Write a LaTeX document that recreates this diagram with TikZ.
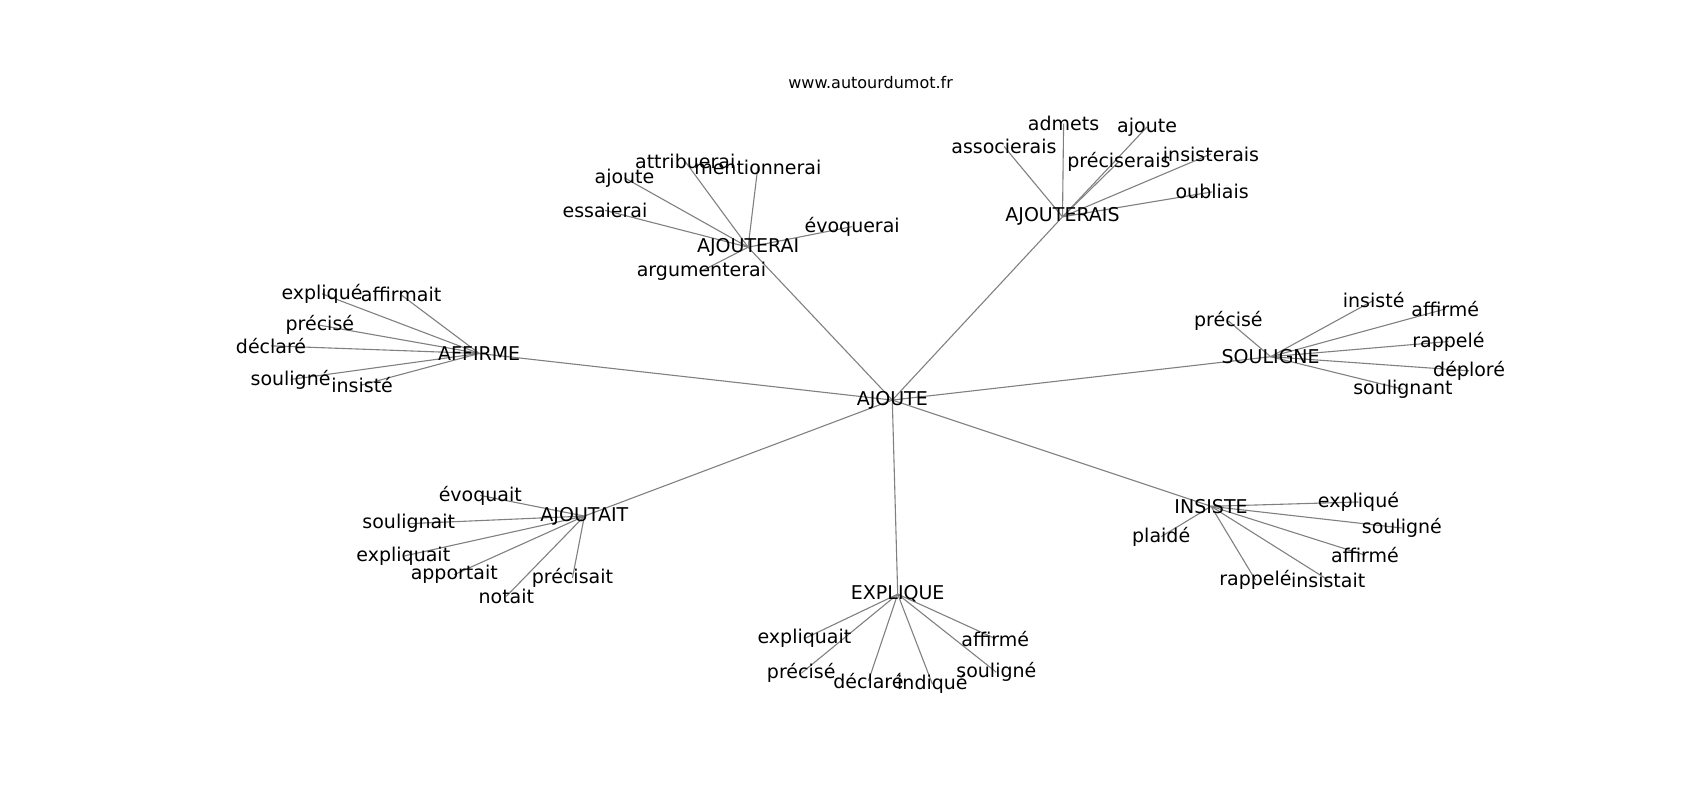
\documentclass[tikz,border=0pt]{standalone}
\usepackage{fontspec}
\setmainfont{DejaVu Sans}
\usepackage{tikz}
\usetikzlibrary{backgrounds}

\tikzset{
  word/.style={inner sep=0pt, font=\fontsize{19}{19}\selectfont},
  link/.style={draw=black!50, line width=1.1pt}
}

\begin{document}
\begin{tikzpicture}[x=1.0842pt, y=-1.0842pt]
\useasboundingbox (0,0) rectangle (1568,738);

\node[inner sep=0pt, font=\fontsize{16}{16}\selectfont] (titre) at (803, 76) {www.autourdumot.fr};

% hubs
\node[word] (ajoute) at (823, 369) {AJOUTE};
\node[word] (ajouterai) at (690, 228) {AJOUTERAI};
\node[word] (ajouterais) at (980, 200) {AJOUTERAIS};
\node[word] (affirme) at (442, 326) {AFFIRME};
\node[word] (souligne) at (1172, 329) {SOULIGNE};
\node[word] (ajoutait) at (539, 476) {AJOUTAIT};
\node[word] (explique) at (828, 548) {EXPLIQUE};
\node[word] (insiste) at (1117, 467) {INSISTE};

% AJOUTERAI
\node[word] (ai-attribuerai) at (632, 149) {attribuerai};
\node[word] (ai-mentionnerai) at (699, 154) {mentionnerai};
\node[word] (ai-ajoute) at (576, 164) {ajoute};
\node[word] (ai-essaierai) at (558, 194) {essaierai};
\node[word] (ai-evoquerai) at (786, 209) {évoquerai};
\node[word] (ai-argumenterai) at (647, 250) {argumenterai};

% AJOUTERAIS
\node[word] (ais-admets) at (981, 114) {admets};
\node[word] (ais-ajoute) at (1058, 117) {ajoute};
\node[word] (ais-associerais) at (926, 135) {associerais};
\node[word] (ais-preciserais) at (1032, 149) {préciserais};
\node[word] (ais-insisterais) at (1117, 142) {insisterais};
\node[word] (ais-oubliais) at (1118, 177) {oubliais};

% AFFIRME
\node[word] (af-explique) at (297, 271) {expliqué};
\node[word] (af-affirmait) at (370, 272) {affirmait};
\node[word] (af-precise) at (295, 300) {précisé};
\node[word] (af-declare) at (250, 319) {déclaré};
\node[word] (af-souligne) at (268, 350) {souligné};
\node[word] (af-insiste) at (334, 355) {insisté};

% SOULIGNE
\node[word] (so-insiste) at (1267, 277) {insisté};
\node[word] (so-precise) at (1133, 296) {précisé};
\node[word] (so-affirme) at (1333, 285) {affirmé};
\node[word] (so-rappele) at (1336, 315) {rappelé};
\node[word] (so-deplore) at (1355, 342) {déploré};
\node[word] (so-soulignant) at (1294, 359) {soulignant};

% AJOUTAIT
\node[word] (at-evoquait) at (443, 457) {évoquait};
\node[word] (at-soulignait) at (377, 483) {soulignait};
\node[word] (at-expliquait) at (372, 513) {expliquait};
\node[word] (at-apportait) at (419, 530) {apportait};
\node[word] (at-precisait) at (528, 533) {précisait};
\node[word] (at-notait) at (467, 550) {notait};

% EXPLIQUE
\node[word] (ex-expliquait) at (742, 589) {expliquait};
\node[word] (ex-affirme) at (918, 589) {affirmé};
\node[word] (ex-precise) at (739, 621) {précisé};
\node[word] (ex-souligne) at (919, 620) {souligné};
\node[word] (ex-declare) at (801, 628) {déclaré};
\node[word] (ex-indique) at (860, 631) {indiqué};

% INSISTE
\node[word] (in-explique) at (1253, 463) {expliqué};
\node[word] (in-plaide) at (1071, 495) {plaidé};
\node[word] (in-souligne) at (1293, 487) {souligné};
\node[word] (in-affirme) at (1259, 512) {affirmé};
\node[word] (in-rappele) at (1158, 535) {rappelé};
\node[word] (in-insistait) at (1225, 535) {insistait};

\begin{scope}[on background layer]
\draw[link] (ajoute.center) -- (ajouterai.center);
\draw[link] (ajoute.center) -- (ajouterais.center);
\draw[link] (ajoute.center) -- (affirme.center);
\draw[link] (ajoute.center) -- (souligne.center);
\draw[link] (ajoute.center) -- (ajoutait.center);
\draw[link] (ajoute.center) -- (explique.center);
\draw[link] (ajoute.center) -- (insiste.center);

\draw[link] (ajouterai.center) -- (ai-attribuerai.center);
\draw[link] (ajouterai.center) -- (ai-mentionnerai.center);
\draw[link] (ajouterai.center) -- (ai-ajoute.center);
\draw[link] (ajouterai.center) -- (ai-essaierai.center);
\draw[link] (ajouterai.center) -- (ai-evoquerai.center);
\draw[link] (ajouterai.center) -- (ai-argumenterai.center);

\draw[link] (ajouterais.center) -- (ais-admets.center);
\draw[link] (ajouterais.center) -- (ais-ajoute.center);
\draw[link] (ajouterais.center) -- (ais-associerais.center);
\draw[link] (ajouterais.center) -- (ais-preciserais.center);
\draw[link] (ajouterais.center) -- (ais-insisterais.center);
\draw[link] (ajouterais.center) -- (ais-oubliais.center);

\draw[link] (affirme.center) -- (af-explique.center);
\draw[link] (affirme.center) -- (af-affirmait.center);
\draw[link] (affirme.center) -- (af-precise.center);
\draw[link] (affirme.center) -- (af-declare.center);
\draw[link] (affirme.center) -- (af-souligne.center);
\draw[link] (affirme.center) -- (af-insiste.center);

\draw[link] (souligne.center) -- (so-insiste.center);
\draw[link] (souligne.center) -- (so-precise.center);
\draw[link] (souligne.center) -- (so-affirme.center);
\draw[link] (souligne.center) -- (so-rappele.center);
\draw[link] (souligne.center) -- (so-deplore.center);
\draw[link] (souligne.center) -- (so-soulignant.center);

\draw[link] (ajoutait.center) -- (at-evoquait.center);
\draw[link] (ajoutait.center) -- (at-soulignait.center);
\draw[link] (ajoutait.center) -- (at-expliquait.center);
\draw[link] (ajoutait.center) -- (at-apportait.center);
\draw[link] (ajoutait.center) -- (at-precisait.center);
\draw[link] (ajoutait.center) -- (at-notait.center);

\draw[link] (explique.center) -- (ex-expliquait.center);
\draw[link] (explique.center) -- (ex-affirme.center);
\draw[link] (explique.center) -- (ex-precise.center);
\draw[link] (explique.center) -- (ex-souligne.center);
\draw[link] (explique.center) -- (ex-declare.center);
\draw[link] (explique.center) -- (ex-indique.center);

\draw[link] (insiste.center) -- (in-explique.center);
\draw[link] (insiste.center) -- (in-plaide.center);
\draw[link] (insiste.center) -- (in-souligne.center);
\draw[link] (insiste.center) -- (in-affirme.center);
\draw[link] (insiste.center) -- (in-rappele.center);
\draw[link] (insiste.center) -- (in-insistait.center);
\end{scope}
\end{tikzpicture}
\end{document}
